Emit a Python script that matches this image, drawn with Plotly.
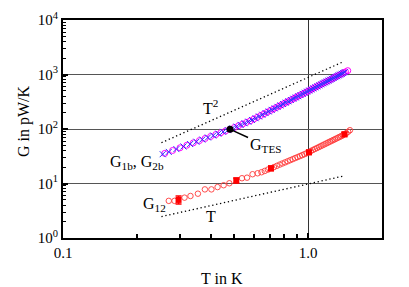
import math
import plotly.graph_objects as go

# ---- data ----
T_1b = [0.26, 0.28, 0.30, 0.32, 0.34, 0.36, 0.38, 0.40, 0.42, 0.44, 0.46, 0.48, 0.50, 0.52, 0.54, 0.56,
        0.58, 0.60, 0.62, 0.64, 0.66, 0.68, 0.70, 0.72, 0.74, 0.76, 0.78, 0.80, 0.82, 0.84, 0.86, 0.88,
        0.90, 0.92, 0.94, 0.96, 0.98, 1.00, 1.02, 1.04, 1.06, 1.08, 1.10, 1.12, 1.14, 1.16, 1.18, 1.20,
        1.22, 1.24, 1.26, 1.28, 1.30, 1.32, 1.34, 1.36, 1.38, 1.40, 1.42, 1.45]
G_1b = [35.7, 40.4, 45.2, 50.4, 55.7, 61.2, 67.0, 72.9, 79.1, 85.5, 92.0, 98.7, 106.5, 114.7, 123.2, 132.0,
        141.0, 151.8, 163.8, 176.3, 189.4, 202.9, 217.1, 231.7, 246.9, 262.7, 279.0, 295.9, 313.3, 331.4,
        350.0, 369.1, 388.9, 409.3, 430.2, 451.7, 473.8, 496.7, 520.0, 543.9, 568.4, 593.6, 619.5, 645.9,
        673.1, 700.8, 729.0, 758.2, 787.8, 818.2, 849.0, 880.5, 912.8, 945.8, 979.2, 1013, 1048, 1084,
        1120, 1176]

T_2b = [0.255, 0.27, 0.29, 0.31, 0.33, 0.35, 0.37, 0.39, 0.41, 0.43, 0.45, 0.47, 0.49, 0.51, 0.53, 0.55,
        0.57, 0.59, 0.61, 0.63, 0.65, 0.67, 0.69, 0.71, 0.73, 0.75, 0.77, 0.79, 0.81, 0.83, 0.85, 0.87,
        0.89, 0.91, 0.93, 0.95, 0.97, 0.99, 1.01, 1.03, 1.05, 1.07, 1.09, 1.11, 1.13, 1.15, 1.17, 1.19,
        1.21, 1.23, 1.25, 1.27, 1.29, 1.31, 1.33, 1.35, 1.37, 1.39, 1.41]
G_2b = [34.5, 38.0, 42.8, 47.8, 53.0, 58.4, 64.1, 69.9, 76.0, 82.3, 88.7, 95.3, 102.5, 110.5, 118.9, 127.5,
        136.5, 146.4, 157.7, 170.0, 182.8, 196.1, 210.0, 224.4, 239.3, 254.8, 270.8, 287.4, 304.6, 322.3,
        340.7, 359.5, 379.0, 399.1, 419.7, 441.0, 462.7, 485.2, 508.3, 531.9, 556.1, 581.0, 606.5, 632.7,
        659.5, 686.9, 714.9, 743.6, 773.0, 803.0, 833.6, 864.7, 896.6, 929.3, 962.5, 996, 1030, 1066, 1102]

T_12 = [0.270, 0.285, 0.313, 0.331, 0.355, 0.379, 0.403, 0.427, 0.452, 0.477, 0.537, 0.563, 0.593, 0.622,
        0.645, 0.665, 0.685, 0.725, 0.745, 0.765, 0.785, 0.805, 0.825, 0.845, 0.865, 0.885, 0.905, 0.925,
        0.945, 0.965, 0.985, 1.025, 1.045, 1.065, 1.085, 1.105, 1.125, 1.145, 1.165, 1.185, 1.205, 1.225,
        1.245, 1.265, 1.285, 1.305, 1.325, 1.345, 1.365, 1.385, 1.43, 1.455, 1.48]
G_12 = [4.8, 4.8, 5.5, 5.9, 6.5, 7.8, 7.8, 8.6, 9.3, 10.1, 12.5, 12.8, 14.8, 15.4,
        16.1, 17.0, 18.0, 20.0, 21.1, 22.2, 23.3, 24.4, 25.6, 26.8, 28.0, 29.3, 30.5, 31.8,
        33.1, 34.5, 35.9, 39.5, 41.2, 43.0, 44.7, 46.6, 48.5, 50.4, 52.3, 54.3, 56.4, 58.5,
        60.6, 62.7, 64.9, 67.2, 69.5, 71.8, 74.2, 76.6, 84.0, 89.0, 95.0]

T_12_err = [0.296, 0.509, 0.705, 1.007, 1.406]
G_12_err = [5.0, 11.4, 19.0, 37.4, 80.0]
err_plus = [0.9, 1.2, 1.9, 3.5, 7.0]
err_minus = [0.8, 1.2, 1.9, 3.5, 7.0]

T_ref = [0.252, 1.393]
G_T2 = [56.0, 1720.0]
G_T1 = [2.47, 13.7]

T_TES = [0.48]
G_TES = [99.0]

x_tickvals = [0.1, 1.0]
x_ticktext = ["0.1", "1.0"]
x_minor = [0.2, 0.3, 0.4, 0.5, 0.6, 0.7, 0.8, 0.9]
y_tickvals = [1, 10, 100, 1000, 10000]
y_ticktext = ["10<sup>0</sup>", "10<sup>1</sup>", "10<sup>2</sup>", "10<sup>3</sup>", "10<sup>4</sup>"]
y_minor = [m * d for d in (1, 10, 100, 1000) for m in (2, 3, 4, 5, 6, 7, 8, 9)]

FONT = "Liberation Serif"

fig = go.Figure()

dotted = dict(color="black", width=1.3, dash="1.3px,2.7px")
fig.add_trace(go.Scatter(x=T_ref, y=G_T2, mode="lines", line=dotted, showlegend=False))
fig.add_trace(go.Scatter(x=T_ref, y=G_T1, mode="lines", line=dotted, showlegend=False))

fig.add_trace(go.Scatter(x=T_1b, y=G_1b, mode="markers",
                         marker=dict(symbol="circle-open", size=6, color="#ff00ff", line=dict(width=1)),
                         showlegend=False))
fig.add_trace(go.Scatter(x=T_2b, y=G_2b, mode="markers",
                         marker=dict(symbol="x-thin-open", size=6, color="#3030ff", line=dict(width=1, color="#3030ff")),
                         showlegend=False))

fig.add_trace(go.Scatter(x=T_12, y=G_12, mode="markers",
                         marker=dict(symbol="circle-open", size=5.5, color="#ff3a3a", line=dict(width=0.9)),
                         showlegend=False))
fig.add_trace(go.Scatter(x=T_12_err, y=G_12_err, mode="markers",
                         marker=dict(symbol="square", size=6, color="#ff0000"),
                         error_y=dict(type="data", array=err_plus, arrayminus=err_minus, visible=True,
                                      color="#ff0000", thickness=1.5, width=3),
                         showlegend=False))

fig.add_trace(go.Scatter(x=T_TES, y=G_TES, mode="markers",
                         marker=dict(symbol="circle", size=7, color="black"), showlegend=False))

# page body has an 8px margin: shrink figure and shift so the plot lands where the reference has it
OFF = 8
W, H = 409 - OFF, 287 - OFF
L, T = 63 - OFF, 20 - OFF
R = W - (382 - OFF)
B = H - (238 - OFF)
pw, ph = W - L - R, H - T - B


def px(x):
    return (x - OFF - L) / pw


def py(y):
    return 1 - (y - OFF - T) / ph


ann_font = dict(family=FONT, size=16, color="black")
fig.add_annotation(x=math.log10(T_TES[0]), y=math.log10(G_TES[0]), xref="x", yref="y",
                   text="G<sub>TES</sub>", showarrow=True, arrowhead=0, arrowwidth=1.5,
                   arrowcolor="black", ax=35, ay=16, font=ann_font, standoff=2)
labels = [
    (210, 107, "T<sup>2</sup>", 0),
    (137, 162, "G<sub>1b</sub>, G<sub>2b</sub>", 0),
    (154, 204, "G<sub>12</sub>", 0),
    (211, 216, "T", 0),
    (222, 278, "T in K", 0),
    (24, 121, "G in pW/K", -90),
]
for lx, ly, txt, ang in labels:
    fig.add_annotation(x=px(lx), y=py(ly), xref="paper", yref="paper", text=txt,
                       textangle=ang, xanchor="center", yanchor="middle",
                       showarrow=False, font=ann_font)

fig.update_layout(
    width=W, height=H,
    margin=dict(l=L, r=R, t=T, b=B, autoexpand=False),
    paper_bgcolor="white", plot_bgcolor="white",
    font=dict(family=FONT, size=15, color="black"),
    xaxis=dict(type="log", range=[-1, math.log10(2.0)], automargin=False,
               tickmode="array", tickvals=x_tickvals, ticktext=x_ticktext,
               ticks="inside", ticklen=5, tickwidth=1.5, tickcolor="black",
               minor=dict(tickmode="array", tickvals=x_minor, ticks="inside", ticklen=4,
                          tickwidth=1.5, tickcolor="black", showgrid=False),
               showgrid=True, gridcolor="#333333", gridwidth=1.2,
               showline=True, linewidth=2, linecolor="black", mirror=True,
               zeroline=False, tickfont=dict(family=FONT, size=15)),
    yaxis=dict(type="log", range=[0, 4], automargin=False,
               tickmode="array", tickvals=y_tickvals, ticktext=y_ticktext,
               ticks="inside", ticklen=5, tickwidth=1.5, tickcolor="black",
               minor=dict(tickmode="array", tickvals=y_minor, ticks="inside", ticklen=3,
                          tickwidth=1, tickcolor="black", showgrid=False),
               showgrid=True, gridcolor="#555555", gridwidth=1.2,
               showline=True, linewidth=2, linecolor="black", mirror=True,
               zeroline=False, tickfont=dict(family=FONT, size=15)),
)

fig.write_html("out.html")
